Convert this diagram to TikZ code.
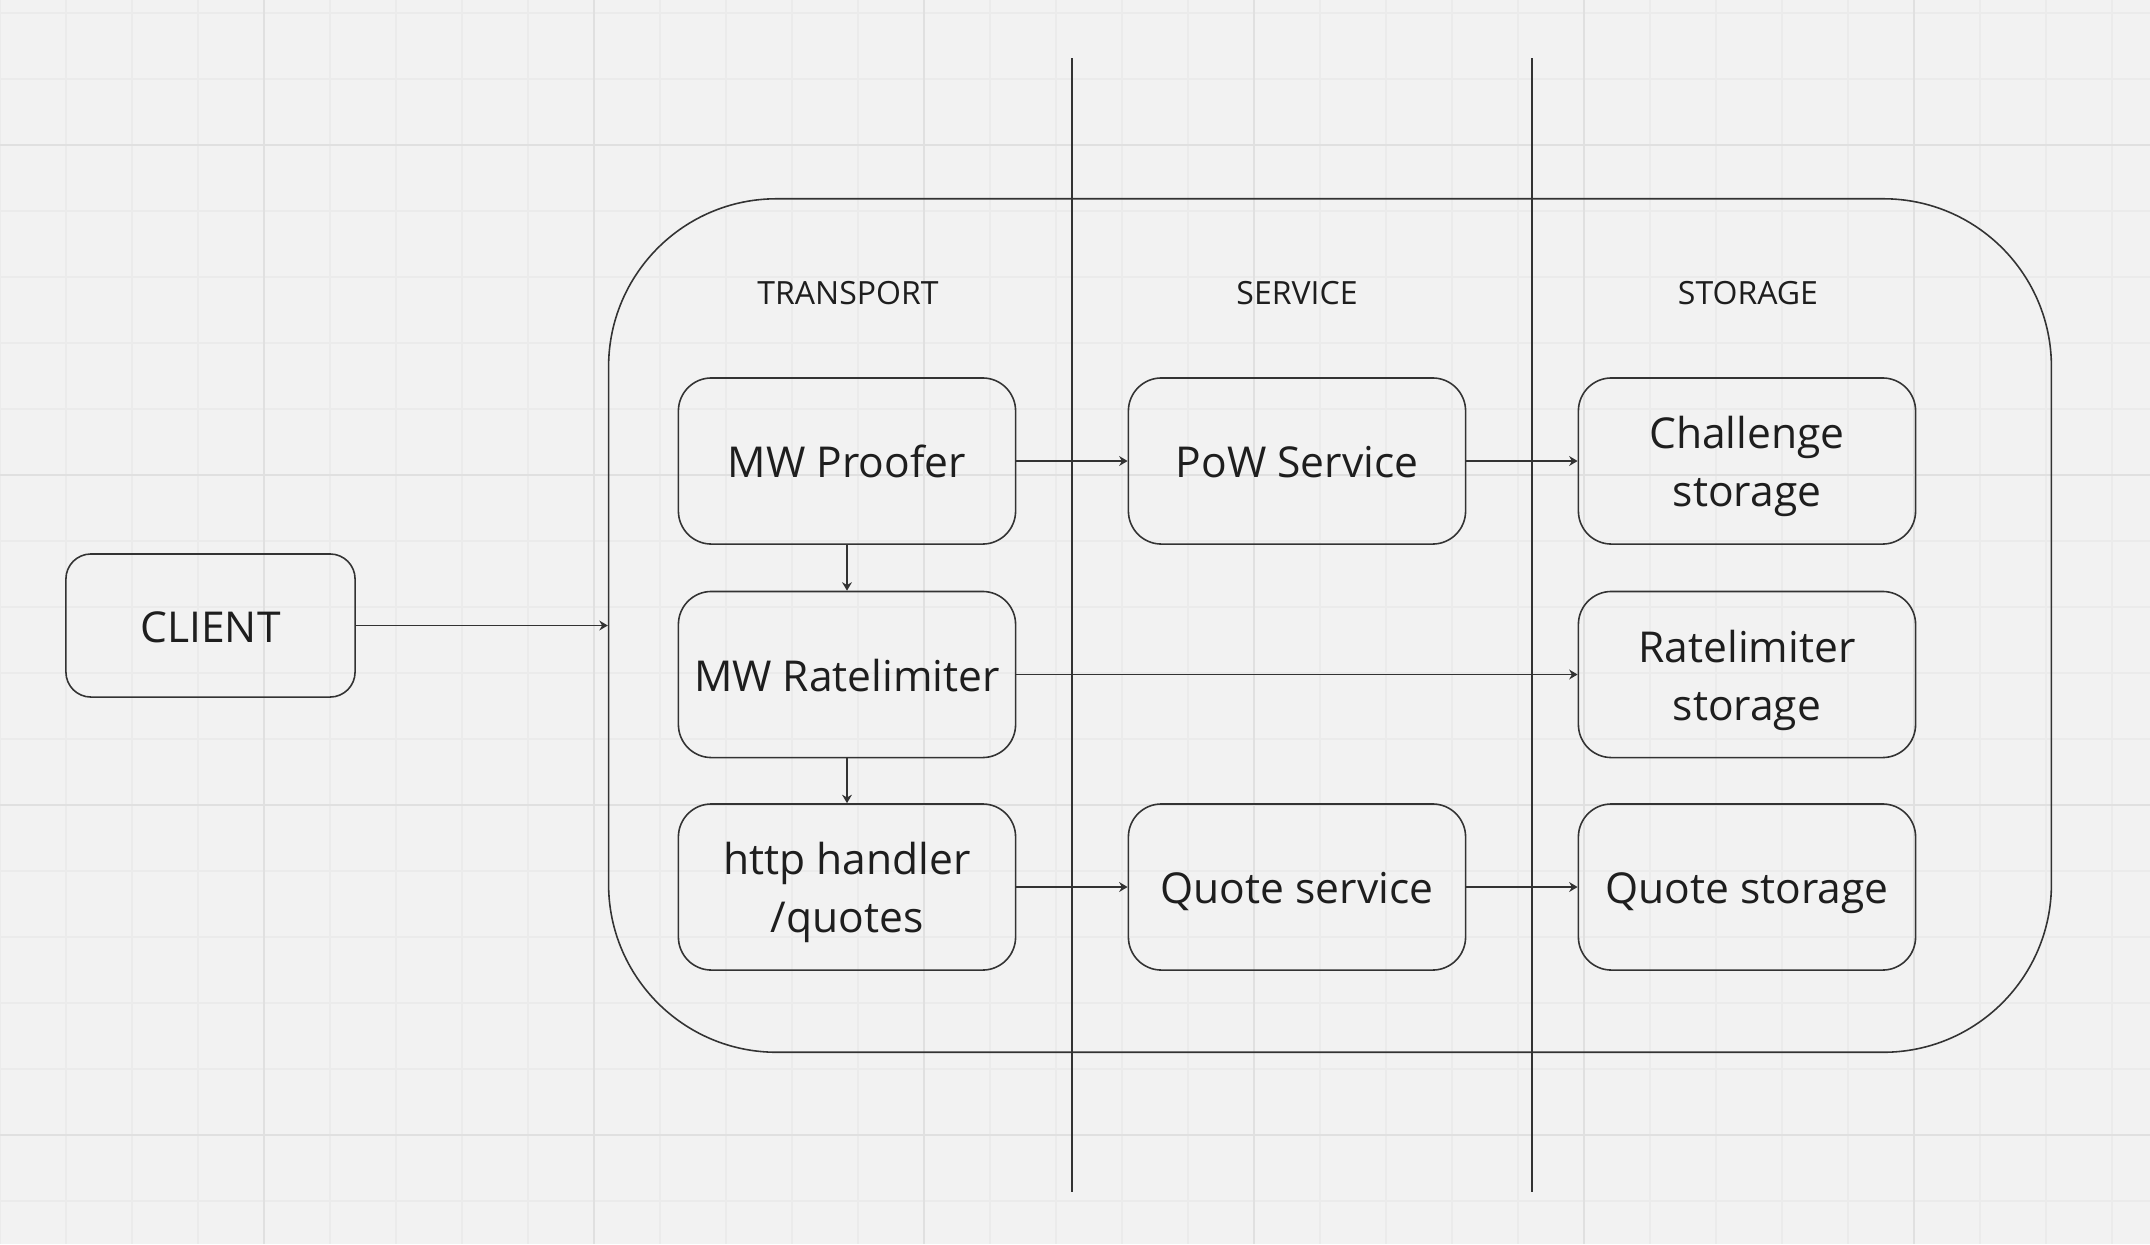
\documentclass[tikz,border=0pt]{standalone}
\usepackage{fontspec}
\setmainfont{Open Sans}
\usetikzlibrary{arrows.meta}

\definecolor{board}{HTML}{F2F2F2}
\definecolor{gridminor}{HTML}{EBEBEB}
\definecolor{gridmajor}{HTML}{E0E0E0}
\definecolor{ink}{HTML}{333333}
\definecolor{txt}{HTML}{1E1E1E}

\newcommand{\mstrut}{\rule[-0.293em]{0pt}{1.362em}}

\tikzset{
	block/.style={draw=ink, line width=0.45pt, rounded corners=0.33cm, minimum width=3.37cm, minimum height=1.66cm, inner sep=0pt, align=center, text=txt, font=\fontsize{12.1}{16.5}\selectfont, execute at begin node=\mstrut, execute at end node=\mstrut},
	lanehead/.style={text=txt, inner sep=0pt, font=\fontsize{9.1}{12}\selectfont},
	flow/.style={draw=ink, line width=0.45pt, -{Stealth[length=2.4pt,width=2.8pt]}},
	lane/.style={draw=ink, line width=0.45pt}
}

\begin{document}
\begin{tikzpicture}[x=0.01cm, y=-0.01cm]
		\fill[board] (0,0) rectangle (2150,1244);
		\useasboundingbox (0,0) rectangle (2150,1244);
		\foreach \x in {0,66,...,2150} \draw[gridminor, line width=0.3pt] (\x,0) -- (\x,1244);
		\foreach \y in {13,79,...,1244} \draw[gridminor, line width=0.3pt] (0,\y) -- (2150,\y);
		\foreach \x in {264,594,...,2150} \draw[gridmajor, line width=0.55pt] (\x,0) -- (\x,1244);
		\foreach \y in {145,475,...,1244} \draw[gridmajor, line width=0.55pt] (0,\y) -- (2150,\y);

		\node[draw=ink, line width=0.45pt, rounded corners=1.68cm, minimum width=14.42cm, minimum height=8.53cm] (app) at (1330,625.5) {};
		\node[block, minimum width=2.89cm, minimum height=1.43cm, rounded corners=0.25cm] (client) at (210.5,625.5) {CLIENT};

		\node[lanehead] (transport) at (848,293.5) {TRANSPORT};
		\node[lanehead] (service) at (1297,293.5) {SERVICE};
		\node[lanehead] (storage) at (1748,293.5) {STORAGE};

		\node[block] (proofer) at (847,461) {MW Proofer};
		\node[block] (ratelimiter) at (847,674.5) {MW Ratelimiter};
		\node[block] (handler) at (847,887) {\mstrut http handler\\/quotes};
		\node[block] (pow) at (1297,461) {PoW Service};
		\node[block] (quotesvc) at (1297,887) {Quote service};
		\node[block] (challenge) at (1747,461) {\mstrut Challenge\\storage};
		\node[block] (rlstorage) at (1747,674.5) {\mstrut Ratelimiter\\storage};
		\node[block] (quotestorage) at (1747,887) {Quote storage};

		\coordinate (cut1top) at (1072,58);
		\coordinate (cut1bot) at (1072,1192);
		\coordinate (cut2top) at (1532,58);
		\coordinate (cut2bot) at (1532,1192);
		\draw[lane] (cut1top) -- (cut1bot);
		\draw[lane] (cut2top) -- (cut2bot);

		\draw[flow] (client.east) -- (app.west);
		\draw[flow] (proofer.east) -- (pow.west);
		\draw[flow] (pow.east) -- (challenge.west);
		\draw[flow] (proofer.south) -- (ratelimiter.north);
		\draw[flow] (ratelimiter.south) -- (handler.north);
		\draw[flow] (ratelimiter.east) -- (rlstorage.west);
		\draw[flow] (handler.east) -- (quotesvc.west);
		\draw[flow] (quotesvc.east) -- (quotestorage.west);
	\end{tikzpicture}
\end{document}
